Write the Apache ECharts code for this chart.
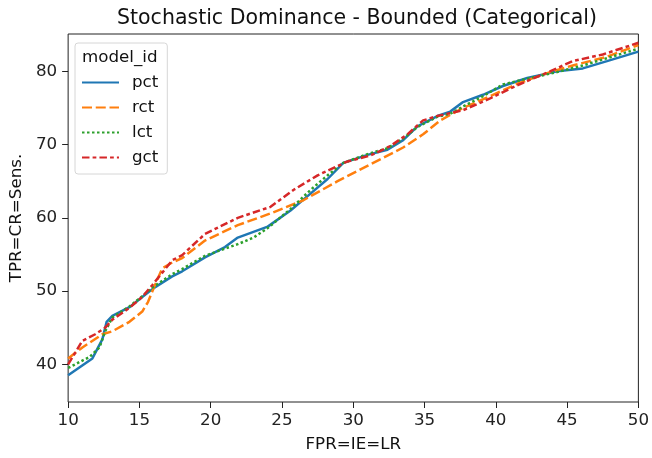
<!DOCTYPE html>
<html>
<head>
<meta charset="utf-8">
<script src="https://cdn.jsdelivr.net/npm/echarts@6/dist/echarts.min.js"></script>
<style>
  html, body { margin: 0; padding: 0; background: #fff; }
  #chart { width: 652px; height: 458px; }
</style>
</head>
<body>
<div id="chart"></div>
<script>
// values
const pctX = [10, 11.7, 12.4, 12.7, 13.1, 14.3, 15.2, 16.0, 17.3, 18.0, 19.6, 21.0, 21.9, 24.0, 25.6, 27.0, 28.2, 29.3, 31.0, 32.4, 33.5, 34.5, 35.9, 36.8, 37.7, 39.1, 40.5, 42.2, 44.3, 46.1, 47.8, 50]
const pctY = [38.5, 40.8, 43.4, 45.8, 46.6, 47.8, 49.2, 50.4, 52.0, 52.7, 54.6, 56.0, 57.3, 58.8, 61.0, 63.3, 65.3, 67.5, 68.6, 69.3, 70.6, 72.5, 73.9, 74.5, 75.8, 76.8, 78.0, 79.1, 80.0, 80.4, 81.4, 82.7]

const rctX = [10, 11.0, 12.4, 13.1, 14.3, 15.2, 15.6, 16.0, 16.6, 17.3, 18.0, 19.6, 21.9, 24.2, 26.5, 28.9, 31.2, 32.1, 33.5, 34.9, 36.1, 37.7, 39.6, 41.5, 43.8, 45.4, 47.8, 50]
const rctY = [40.8, 42.3, 44.1, 44.5, 45.8, 47.2, 48.5, 50.4, 53.1, 53.9, 54.5, 56.9, 59.0, 60.6, 62.4, 65.0, 67.3, 68.2, 69.6, 71.4, 73.3, 75.0, 76.6, 78.3, 79.9, 80.8, 82.0, 83.6]

const lctX = [10, 11.5, 12.2, 12.6, 13.1, 14.3, 15.2, 16.0, 17.3, 18.0, 19.6, 21.0, 21.9, 23.0, 24.0, 25.6, 27.0, 28.2, 29.3, 31.0, 32.4, 33.5, 34.5, 35.9, 36.8, 37.7, 39.1, 40.5, 42.2, 44.3, 46.1, 47.8, 50]
const lctY = [39.5, 41.0, 42.3, 44.5, 46.4, 47.9, 49.3, 50.6, 52.3, 53.0, 54.8, 55.8, 56.4, 57.3, 58.6, 61.2, 63.8, 65.8, 67.5, 68.7, 69.5, 70.8, 72.4, 73.8, 74.2, 75.2, 76.6, 78.2, 79.0, 79.9, 80.8, 81.8, 83.1]

const gctX = [10, 11.0, 11.9, 12.6, 13.1, 14.3, 15.2, 15.9, 17.3, 18.0, 19.6, 21.9, 24.2, 25.8, 27.5, 29.6, 31.2, 32.6, 33.8, 34.9, 35.9, 36.8, 37.7, 39.6, 41.5, 43.8, 45.4, 47.5, 50]
const gctY = [40.0, 43.2, 44.1, 45.0, 46.1, 47.7, 49.2, 50.8, 54.2, 54.9, 57.8, 60.0, 61.5, 63.8, 65.8, 67.7, 68.5, 69.8, 71.4, 73.3, 73.9, 74.3, 74.7, 76.3, 78.1, 80.0, 81.4, 82.3, 83.9]

const yTicks = [40, 50, 60, 70, 80]

const font = 'DejaVu Sans'
const pairs = (xs, ys) => xs.map((x, i) => [x, ys[i]])

const chart = echarts.init(document.getElementById('chart'))

function line(name, xs, ys, color, dash) {
  return {
    name,
    type: 'line',
    data: pairs(xs, ys),
    symbol: 'none',
    showSymbol: false,
    lineStyle: { width: 2.5, color, type: dash },
    itemStyle: { color },
  }
}

chart.setOption({
  animation: false,
  title: {
    text: 'Stochastic Dominance - Bounded (Categorical)',
    left: 352,
    top: 3,
    textAlign: 'center',
    textStyle: { fontFamily: font, fontSize: 20.5, fontWeight: 'normal', color: '#111' },
  },
  grid: {
    left: 66, right: 13, top: 34, bottom: 49,
    show: true, borderColor: '#222', borderWidth: 1,
  },
  legend: {
    orient: 'vertical',
    left: 75,
    top: 43,
    padding: [31, 9, 8, 6],
    itemWidth: 37,
    itemHeight: 14,
    itemGap: 8,
    borderColor: '#d6d6d6',
    borderWidth: 1,
    borderRadius: 3,
    backgroundColor: 'rgba(255,255,255,0.85)',
    itemStyle: { color: 'transparent', borderWidth: 0, opacity: 0 },
    textStyle: { fontFamily: font, fontSize: 16.7, color: '#111', padding: [0, 0, 0, 8] },
    data: ['pct', 'rct', 'lct', 'gct'],
  },
  graphic: [{
    type: 'text',
    left: 82,
    top: 49,
    z: 100,
    style: { text: 'model_id', font: '16.7px "DejaVu Sans"', fill: '#111' },
  }],
  xAxis: {
    type: 'value',
    min: 10, max: 50, interval: 5,
    name: 'FPR=IE=LR',
    nameLocation: 'middle',
    nameGap: 34,
    nameTextStyle: { fontFamily: font, fontSize: 16.7, color: '#111' },
    axisLine: { show: false },
    axisTick: { show: true, length: 6, lineStyle: { color: '#222' } },
    axisLabel: { fontFamily: font, fontSize: 16.7, color: '#222', margin: 10 },
    splitLine: { show: false },
  },
  yAxis: {
    type: 'value',
    min: 34.85, max: 85.1,
    name: 'TPR=CR=Sens.',
    nameLocation: 'middle',
    nameGap: 40,
    nameTextStyle: { fontFamily: font, fontSize: 16.7, color: '#111' },
    axisLine: { show: false },
    axisTick: { show: true, length: 6, customValues: yTicks, lineStyle: { color: '#222' } },
    axisLabel: { fontFamily: font, fontSize: 16.7, color: '#222', margin: 11, customValues: yTicks },
    splitLine: { show: false },
  },
  series: [
    line('pct', pctX, pctY, '#1f77b4', 'solid'),
    line('rct', rctX, rctY, '#ff7f0e', [10, 3.75]),
    line('lct', lctX, lctY, '#2ca02c', [2.5, 2.5]),
    line('gct', gctX, gctY, '#d62728', [7.5, 3.1, 3.75, 3.1]),
  ],
})
</script>
</body>
</html>
